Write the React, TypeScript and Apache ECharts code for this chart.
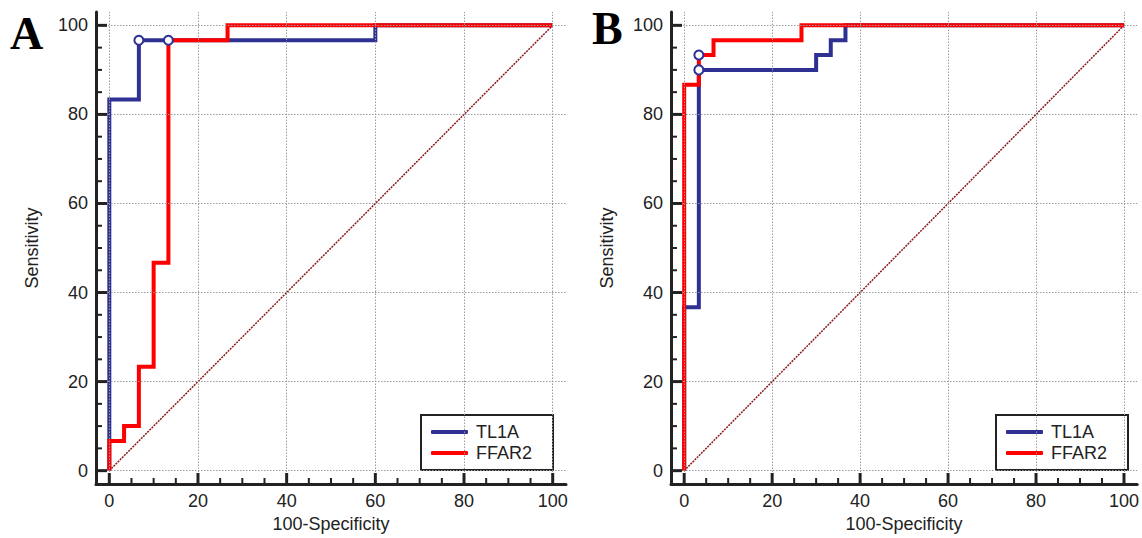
import React, { useEffect, useRef } from "react";
import * as echarts from "echarts";

// ---- data ----
const majorTicks = [0, 20, 40, 60, 80, 100];
const minorTicks = [5, 10, 15, 25, 30, 35, 45, 50, 55, 65, 70, 75, 85, 90, 95];
const seriesNames = ["TL1A", "FFAR2"];

// ROC points (100-Specificity, Sensitivity), panel A
const tl1aA = [[0, 0], [0, 83.33], [6.67, 96.67], [60, 100], [100, 100]];
const ffar2A = [[0, 0], [0, 6.67], [3.33, 10], [6.67, 23.33], [10, 46.67], [13.33, 96.67], [26.67, 100], [100, 100]];
const cutoffA = [[6.67, 96.67], [13.33, 96.67]];

// panel B
const tl1aB = [[0, 0], [0, 36.67], [3.33, 90], [30, 93.33], [33.33, 96.67], [36.67, 100], [100, 100]];
const ffar2B = [[0, 0], [0, 86.67], [3.33, 93.33], [6.67, 96.67], [26.67, 100], [100, 100]];
const cutoffB = [[3.33, 93.33], [3.33, 90]];

const diagonal = [[0, 0], [100, 100]];
const panelLetters = ["A", "B"];

const BLUE = "#2E3192";
const RED = "#FF0000";
const AXIS = "#222";
const FONT = "Arial, 'Liberation Sans', sans-serif";
const AX_MIN = -3;
const AX_MAX = 103;
const GRID_W = 470;
const GRID_H = 472;
const MAJOR_PX = 11;
const MINOR_PX = 6;

function mainX(gridIndex: number) {
  return {
    type: "value", gridIndex, min: AX_MIN, max: AX_MAX, position: "bottom",
    name: "100-Specificity", nameLocation: "middle", nameGap: 30,
    nameTextStyle: { fontSize: 18, color: AXIS, fontFamily: FONT },
    axisLine: { show: true, onZero: false, lineStyle: { color: AXIS, width: 3 } },
    axisTick: { show: false },
    axisLabel: { show: true, customValues: majorTicks, margin: 8, fontSize: 18, color: AXIS, fontFamily: FONT },
    splitLine: { show: false },
  };
}
function mainY(gridIndex: number) {
  return {
    type: "value", gridIndex, min: AX_MIN, max: AX_MAX, position: "left",
    name: "Sensitivity", nameLocation: "middle", nameGap: 55,
    nameTextStyle: { fontSize: 18, color: AXIS, fontFamily: FONT },
    axisLine: { show: true, onZero: false, lineStyle: { color: AXIS, width: 3 } },
    axisTick: { show: false },
    axisLabel: { show: true, customValues: majorTicks, margin: 8, fontSize: 18, color: AXIS, fontFamily: FONT },
    splitLine: { show: false },
  };
}

function panelSeries(axisIndex: number, tl1a: number[][], ffar2: number[][], cutoff: number[][]) {
  const ax = { xAxisIndex: axisIndex, yAxisIndex: axisIndex };
  return [
    {
      type: "line", ...ax, data: [], silent: true, z: 1,
      markLine: {
        silent: true, symbol: "none", label: { show: false },
        lineStyle: { type: [1.5, 1.5], color: "#9a9a9a", width: 1 },
        data: [...majorTicks.map((v) => ({ xAxis: v })), ...majorTicks.map((v) => ({ yAxis: v }))],
      },
    },
    {
      type: "line", ...ax, data: diagonal, symbol: "none", z: 2,
      lineStyle: { color: "#8B1A1A", width: 1.5, type: [2, 1] },
    },
    {
      name: seriesNames[0], type: "line", ...ax, data: tl1a, step: "end", symbol: "none", z: 3,
      itemStyle: { color: BLUE },
      lineStyle: { color: BLUE, width: 4, join: "miter" },
    },
    {
      name: seriesNames[1], type: "line", ...ax, data: ffar2, step: "end", symbol: "none", z: 4,
      itemStyle: { color: RED },
      lineStyle: { color: RED, width: 4, join: "miter" },
    },
    {
      type: "scatter", ...ax, data: cutoff, symbol: "circle", symbolSize: 9, z: 5,
      itemStyle: { color: "#fff", borderColor: BLUE, borderWidth: 2, opacity: 1 },
    },
  ];
}

function legendAt(left: number, top: number) {
  return {
    data: seriesNames, orient: "vertical", left, top,
    padding: [7, 21, 7, 10], itemGap: 1, itemWidth: 37, itemHeight: 4, icon: "roundRect",
    borderColor: AXIS, borderWidth: 2, backgroundColor: "#fff",
    textStyle: { fontSize: 18, color: AXIS, fontFamily: FONT, lineHeight: 20, padding: [0, 0, 0, 3] },
    selectedMode: false,
  };
}

const letterFont = "bold 46px 'Liberation Serif', 'Times New Roman', serif";

export default function App() {
  const ref = useRef<HTMLDivElement>(null);
  useEffect(() => {
    if (!ref.current) return;
    const chart = echarts.init(ref.current, null, { renderer: "svg" });
    chart.setOption({
      animation: false,
      backgroundColor: "#fff",
      grid: [
        { left: 96, top: 12, width: GRID_W, height: GRID_H },
        { left: 671, top: 12, width: GRID_W, height: GRID_H },
      ],
      xAxis: [mainX(0), mainX(1)],
      yAxis: [mainY(0), mainY(1)],
      legend: [legendAt(421, 415), legendAt(996, 415)],
      series: [
        ...panelSeries(0, tl1aA, ffar2A, cutoffA),
        ...panelSeries(1, tl1aB, ffar2B, cutoffB),
      ],
    });

    // tick marks placed through the axes' own scales
    const ticks: any[] = [];
    [0, 1].forEach((g) => {
      const left = chart.convertToPixel({ xAxisIndex: g }, AX_MIN) as number;
      const bottom = chart.convertToPixel({ yAxisIndex: g }, AX_MIN) as number;
      const addTick = (v: number, len: number, w: number) => {
        const px = chart.convertToPixel({ xAxisIndex: g }, v) as number;
        const py = chart.convertToPixel({ yAxisIndex: g }, v) as number;
        ticks.push({ type: "line", silent: true, z: 100, shape: { x1: px, y1: bottom, x2: px, y2: bottom - len }, style: { stroke: AXIS, lineWidth: w } });
        ticks.push({ type: "line", silent: true, z: 100, shape: { x1: left, y1: py, x2: left + len, y2: py }, style: { stroke: AXIS, lineWidth: w } });
      };
      majorTicks.forEach((v) => addTick(v, MAJOR_PX, 3));
      minorTicks.forEach((v) => addTick(v, MINOR_PX, 2));
    });

    chart.setOption({
      graphic: [
        { type: "text", left: 10, top: 10, style: { text: panelLetters[0], font: letterFont, fill: "#000" } },
        { type: "text", left: 592, top: 5, style: { text: panelLetters[1], font: letterFont, fill: "#000" } },
        ...ticks,
      ],
    });
    return () => chart.dispose();
  }, []);
  return <div ref={ref} style={{ position: "absolute", left: 0, top: 0, width: 1142, height: 538 }} />;
}
